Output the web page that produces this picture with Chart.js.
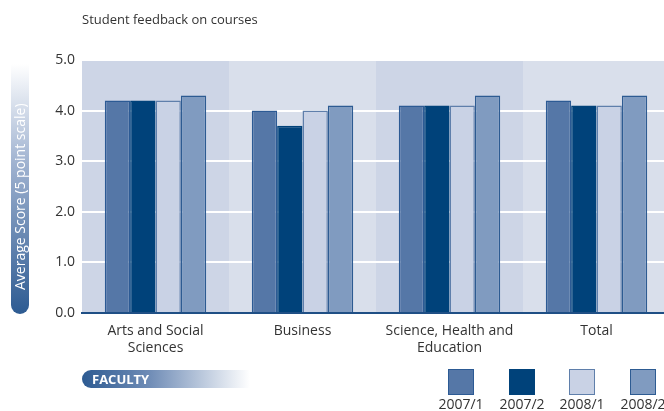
<!DOCTYPE html>
<html>
<head>
<meta charset="utf-8">
<script src="https://cdn.jsdelivr.net/npm/chart.js@4"></script>
<style>
  body { margin: 0; background: #fff; overflow: hidden; width: 664px; height: 411px; position: relative; font-family: "Open Sans", "Noto Sans", sans-serif; color: #333; }
  #wrap { position: absolute; left: 0; top: 0; width: 670px; height: 411px; }
  #title { position: absolute; left: 82px; top: 10px; font-size: 13px; color: #333; }
  #ypill { position: absolute; left: 11px; top: 64px; width: 18px; height: 250px; border-radius: 0 0 9px 9px;
           background: linear-gradient(to bottom, #ffffff 0%, #9fb2d0 40%, #2d5b92 100%); }
  #ypill span { position: absolute; left: 50%; bottom: 6px; transform-origin: 0 0; transform: rotate(-90deg) translate(0, -50%);
                white-space: nowrap; color: #fff; font-size: 14px; line-height: 18px; }
  #faculty { position: absolute; left: 82px; top: 370px; width: 168px; height: 18px; border-radius: 9px 0 0 9px;
             background: linear-gradient(to right, #2d5b92 0%, #6f8cb6 40%, #ffffff 100%); color: #fff; font-weight: bold;
             font-size: 13px; line-height: 18px; padding-left: 10px; box-sizing: border-box; }
  #legend { position: absolute; left: 0; top: 0; }
  .lg { position: absolute; width: 60px; text-align: center; font-size: 14px; line-height: 16px; color: #333; }
  .lg i { display: block; width: 26px; height: 26px; margin: 0 auto 1px; box-sizing: border-box; border: 1.5px solid; }
</style>
</head>
<body>
<div id="wrap"><canvas id="feedbackChart"></canvas></div>
<div id="title">Student feedback on courses</div>
<div id="ypill"><span>Average Score (5 point scale)</span></div>
<div id="faculty">FACULTY</div>
<div id="legend"></div>
<script>
const faculties = [['Arts and Social', 'Sciences'], 'Business', ['Science, Health and', 'Education'], 'Total'];
const seriesNames = ['2007/1', '2007/2', '2008/1', '2008/2'];
const scores2007s1 = [4.2, 4.0, 4.1, 4.2];
const scores2007s2 = [4.2, 3.7, 4.1, 4.1];
const scores2008s1 = [4.2, 4.0, 4.1, 4.1];
const scores2008s2 = [4.3, 4.1, 4.3, 4.3];
const yTicks = [0, 1, 2, 3, 4, 5];

const fills = ['#5577a7', '#00427a', '#c9d2e5', '#809bc0'];
const borders = ['#2c5a94', '#00427a', '#5f7fab', '#2d5b92'];
const bandColors = ['#cdd5e6', '#d9dfeb'];

// alternating shaded bands behind each faculty
const bandPlugin = {
    id: 'bands',
    beforeDraw(chart) {
        const { ctx, chartArea, scales } = chart;
        const x = scales.x;
        ctx.save();
        faculties.forEach((f, i) => {
            const left = i === 0 ? chartArea.left : (x.getPixelForTick(i - 1) + x.getPixelForTick(i)) / 2;
            const right = i === faculties.length - 1 ? chartArea.right : (x.getPixelForTick(i) + x.getPixelForTick(i + 1)) / 2;
            ctx.fillStyle = bandColors[i % 2];
            ctx.fillRect(left, chartArea.top, right - left, chartArea.bottom - chartArea.top);
        });
        ctx.restore();
    }
};

const seriesData = [scores2007s1, scores2007s2, scores2008s1, scores2008s2];
const datasets = seriesNames.map((name, i) => ({
    label: name,
    data: seriesData[i],
    backgroundColor: fills[i],
    borderColor: borders[i],
    borderWidth: 1.5,
    categoryPercentage: 0.69,
    barPercentage: 1.0
}));

new Chart(document.getElementById('feedbackChart'), {
    type: 'bar',
    data: { labels: faculties, datasets: datasets },
    plugins: [bandPlugin],
    options: {
        responsive: true,
        maintainAspectRatio: false,
        animation: false,
        layout: { padding: { top: 60, right: 0, bottom: 0, left: 0 } },
        plugins: { legend: { display: false }, tooltip: { enabled: false } },
        scales: {
            x: {
                grid: { display: false },
                border: { display: true, color: '#1f4f85', width: 2 },
                ticks: { color: '#333', font: { size: 14, family: '"Open Sans", "Noto Sans", sans-serif', lineHeight: 1.2 }, padding: 2, maxRotation: 0 },
                afterFit(scale) { scale.height = 98; }
            },
            y: {
                min: 0,
                max: 5,
                afterBuildTicks(scale) { scale.ticks = yTicks.map(v => ({ value: v })); },
                grid: {
                    color: ctx => ctx.tick && ctx.tick.value === 0 ? 'rgba(0,0,0,0)' : '#ffffff',
                    lineWidth: 2,
                    drawTicks: false
                },
                border: { display: false },
                ticks: {
                    color: '#333',
                    padding: 7,
                    font: { size: 14, family: '"Open Sans", "Noto Sans", sans-serif' },
                    callback: v => v.toFixed(1)
                },
                afterFit(scale) { scale.width = 82; }
            }
        }
    }
});

// legend: coloured box above each label
const legendX = [431, 492, 552, 613];
const legend = document.getElementById('legend');
seriesNames.forEach((name, i) => {
    const d = document.createElement('div');
    d.className = 'lg';
    d.style.left = legendX[i] + 'px';
    d.style.top = '369px';
    d.innerHTML = '<i style="background:' + fills[i] + ';border-color:' + borders[i] + '"></i>' + name;
    legend.appendChild(d);
});
</script>
</body>
</html>
